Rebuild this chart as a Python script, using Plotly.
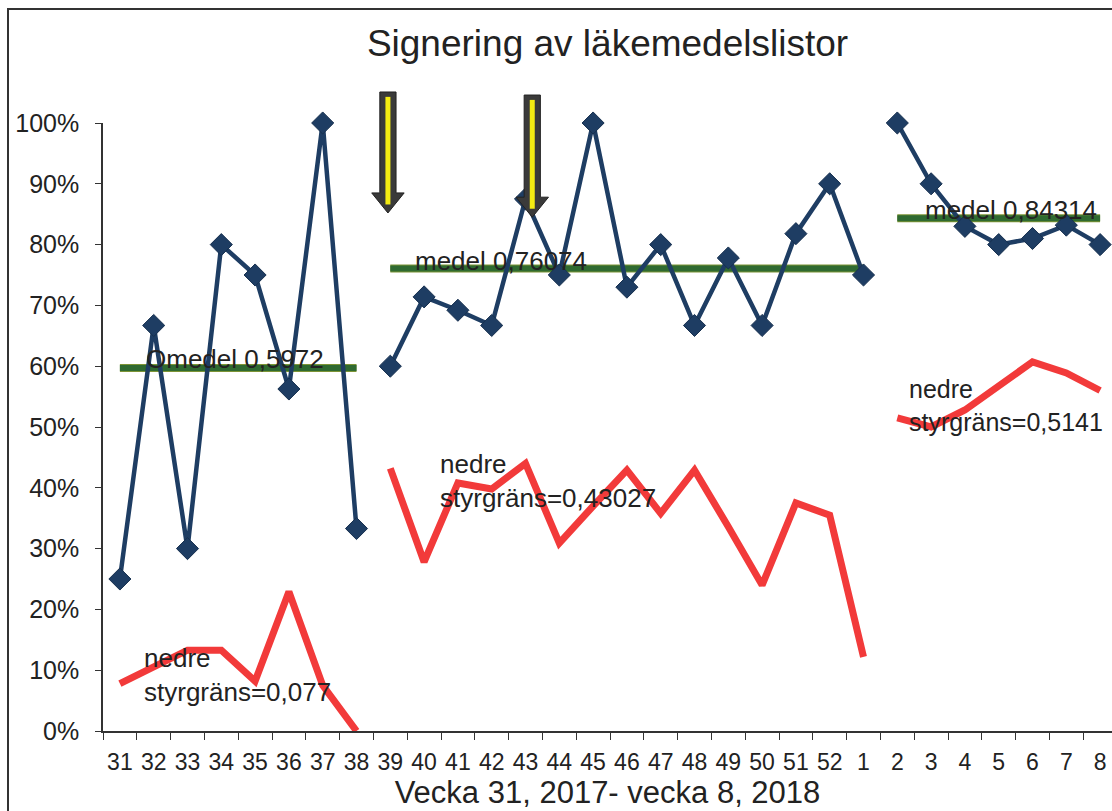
import plotly.graph_objects as go

# Week labels, week 31 2017 to week 8 2018
weeks = [str(w) for w in range(31, 53)] + [str(w) for w in range(1, 9)]

# Signing share per week, split into three periods
sign_p1 = [0.25, 0.667, 0.30, 0.80, 0.75, 0.5625, 1.00, 0.333]
sign_p2 = [0.60, 0.714, 0.692, 0.667, 0.875, 0.75, 1.00, 0.73, 0.80, 0.667,
           0.778, 0.667, 0.818, 0.90, 0.75]
sign_p3 = [1.00, 0.90, 0.83, 0.80, 0.81, 0.832, 0.80]

# Lower control limit per week
lcl_p1 = [0.078, 0.105, 0.133, 0.133, 0.082, 0.229, 0.075, 0.0]
lcl_p2 = [0.432, 0.278, 0.408, 0.398, 0.44, 0.309, 0.37, 0.429, 0.358, 0.429,
          0.336, 0.24, 0.375, 0.355, 0.122]
lcl_p3 = [0.515, 0.50, 0.528, 0.566, 0.607, 0.589, 0.56]

# Period means
means = [0.5972, 0.76074, 0.84314]
mean_labels = ["Omedel 0,5972", "medel 0,76074", "medel 0,84314"]
lcl_labels = ["nedre<br>styrgräns=0,077", "nedre<br>styrgräns=0,43027",
              "nedre<br>styrgräns=0,5141"]

periods = [
    (weeks[0:8], sign_p1, lcl_p1),
    (weeks[8:23], sign_p2, lcl_p2),
    (weeks[23:30], sign_p3, lcl_p3),
]

BLUE = "#1e3d63"
RED = "#f23a3a"
GREEN = "#2f6a31"
FONT = "Liberation Sans, Arial, sans-serif"

W, H = 1112, 811
L, T, B = 103, 123, 80
plot_w = W - L
cat_px = 33.8
xmin = -0.5
xmax = xmin + plot_w / cat_px

fig = go.Figure()

for (wk, sig, lcl), m in zip(periods, means):
    fig.add_trace(go.Scatter(
        x=[wk[0], wk[-1]], y=[m, m], mode="lines",
        line=dict(color="#7d9436", width=8), hoverinfo="skip", cliponaxis=False))
    fig.add_trace(go.Scatter(
        x=[wk[0], wk[-1]], y=[m, m], mode="lines",
        line=dict(color=GREEN, width=6), cliponaxis=False))
    fig.add_trace(go.Scatter(
        x=wk, y=lcl, mode="lines",
        line=dict(color=RED, width=7), cliponaxis=False))
    fig.add_trace(go.Scatter(
        x=wk, y=sig, mode="lines+markers",
        line=dict(color=BLUE, width=4.5),
        marker=dict(symbol="diamond", size=17, color=BLUE,
                    line=dict(color="#17304f", width=1)),
        cliponaxis=False))

# Text labels for means and control limits
mean_pos = [(0.72, 0.612), (8.68, 0.773), (23.75, 0.857)]
lcl_pos = [(0.66, 0.092), (9.42, 0.411), (23.3, 0.536)]
label_sizes = [26, 26, 26, 26, 26, 25]
annotations = []
for (ax, ay), txt, fs in zip(mean_pos + lcl_pos, mean_labels + lcl_labels, label_sizes):
    annotations.append(dict(
        x=ax, y=ay, xref="x", yref="y", text=txt, showarrow=False,
        xanchor="left", yanchor="middle", align="left",
        font=dict(family=FONT, size=fs, color="#222222")))


def xd(idx):
    return (idx - xmin) / (xmax - xmin)


def px_x(p):
    return (p - L) / plot_w


def px_y(p):
    return (H - B - p) / (H - B - T)


shapes = []
# Outer frame
shapes.append(dict(type="rect", xref="paper", yref="paper",
                   x0=px_x(8), x1=px_x(W + 20), y0=px_y(H + 20), y1=px_y(9),
                   line=dict(color="#333333", width=2), fillcolor="rgba(0,0,0,0)",
                   layer="below"))

# Block arrows marking interventions
for cx, top, neck, tip in [(7.93, 1.051, 0.885, 0.852), (12.2, 1.046, 0.878, 0.845)]:
    sw, hw = 0.24, 0.48
    path = (f"M {xd(cx - sw)} {top} L {xd(cx + sw)} {top} L {xd(cx + sw)} {neck} "
            f"L {xd(cx + hw)} {neck} L {xd(cx)} {tip} L {xd(cx - hw)} {neck} "
            f"L {xd(cx - sw)} {neck} Z")
    shapes.append(dict(type="path", xref="x domain", yref="y domain", path=path,
                       fillcolor="#3a3a3a", line=dict(color="#222222", width=1),
                       layer="above"))
    shapes.append(dict(type="line", xref="x domain", yref="y domain",
                       x0=xd(cx), x1=xd(cx), y0=top - 0.008, y1=tip + 0.014,
                       line=dict(color="#f4ec12", width=5), layer="above"))

fig.update_layout(
    width=W, height=H,
    margin=dict(l=L, r=0, t=T, b=B),
    paper_bgcolor="white", plot_bgcolor="white",
    showlegend=False,
    font=dict(family=FONT, color="#222222"),
    title=dict(text="Signering av läkemedelslistor", x=0.5, xref="paper",
               y=1 - 43 / H, yref="container", yanchor="middle",
               font=dict(family=FONT, size=37, color="#222222")),
    annotations=annotations,
    shapes=shapes,
)

fig.update_xaxes(
    type="category", categoryorder="array", categoryarray=weeks,
    range=[xmin, xmax], showgrid=False, zeroline=False, automargin=False,
    showline=True, linecolor="#333333", linewidth=1.5,
    ticks="outside", ticklen=7, tickcolor="#333333", tickson="boundaries",
    tickangle=0, ticklabelstandoff=10,
    tickfont=dict(family=FONT, size=23, color="#222222"),
    title=dict(text="Vecka 31, 2017- vecka 8, 2018", standoff=4,
               font=dict(family=FONT, size=31, color="#222222")),
)
fig.update_yaxes(
    range=[0, 1], dtick=0.1, tickformat=".0%", showgrid=False, zeroline=False,
    automargin=False,
    showline=True, linecolor="#333333", linewidth=1.5,
    ticks="outside", ticklen=6, tickcolor="#333333", ticklabelstandoff=11,
    tickfont=dict(family=FONT, size=25, color="#222222"),
)

fig.write_html("out.html")
